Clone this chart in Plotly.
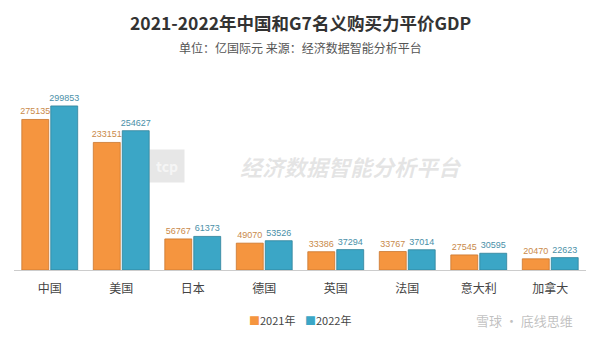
import plotly.graph_objects as go

categories = ["中国", "美国", "日本", "德国", "英国", "法国", "意大利", "加拿大"]
gdp_2021 = [275135, 233151, 56767, 49070, 33386, 33767, 27545, 20470]
gdp_2022 = [299853, 254627, 61373, 53526, 37294, 37014, 30595, 22623]
series_names = ["2021年", "2022年"]

FONT = "Noto Sans CJK SC, Arial, sans-serif"
NUMFONT = "Liberation Sans, Arial, sans-serif"
ORANGE = "#F5953F"
BLUE = "#3BA6C6"

fig = go.Figure()
fig.add_trace(go.Bar(
    name=series_names[0], x=categories, y=gdp_2021,
    marker=dict(color=ORANGE, line=dict(color="#c9762e", width=0.8)),
    text=[str(v) for v in gdp_2021], textposition="outside", constraintext="none",
    textfont=dict(size=9, color="#c98a4a", family=NUMFONT),
    cliponaxis=False,
))
fig.add_trace(go.Bar(
    name=series_names[1], x=categories, y=gdp_2022,
    marker=dict(color=BLUE, line=dict(color="#2f8199", width=0.8)),
    text=[str(v) for v in gdp_2022], textposition="outside", constraintext="none",
    textfont=dict(size=9, color="#4a90a8", family=NUMFONT),
    cliponaxis=False,
))

PH = 180.0  # plot height in px (90 -> 270)

fig.update_layout(
    width=600, height=337,
    margin=dict(l=14, r=14, t=90, b=67, autoexpand=False),
    paper_bgcolor="white", plot_bgcolor="white",
    barmode="group", bargap=0.19, bargroupgap=0.07,
    font=dict(family=FONT, color="#444"),
    showlegend=False,
    xaxis=dict(showline=True, linecolor="#cccccc", linewidth=1, ticks="",
               ticklabelstandoff=8,
               tickfont=dict(size=12, color="#444"), showgrid=False),
    yaxis=dict(visible=False, range=[0, 329000], showgrid=False),
)

fig.add_annotation(text="<b>2021-2022年中国和G7名义购买力平价GDP</b>", xref="paper", yref="paper",
                   x=0.5, y=1 + 68/PH, xanchor="center", yanchor="middle", showarrow=False,
                   font=dict(size=17.5, color="#333333", family=FONT))
fig.add_annotation(text="单位：亿国际元 来源：经济数据智能分析平台", xref="paper", yref="paper",
                   x=0.5, y=1 + 42/PH, xanchor="center", yanchor="middle", showarrow=False,
                   font=dict(size=12, color="#555555", family=FONT))
# legend
fig.add_annotation(text=f"<span style='color:{ORANGE}'>■</span>{series_names[0]}", xref="paper", yref="paper",
                   x=(272-14)/572, y=-50/PH, xanchor="center", yanchor="middle", showarrow=False,
                   font=dict(size=11, color="#444", family=FONT))
fig.add_annotation(text=f"<span style='color:{BLUE}'>■</span>{series_names[1]}", xref="paper", yref="paper",
                   x=(328-14)/572, y=-50/PH, xanchor="center", yanchor="middle", showarrow=False,
                   font=dict(size=11, color="#444", family=FONT))
# watermark
fig.add_annotation(text="<i><b>经济数据智能分析平台</b></i>", xref="paper", yref="paper",
                   x=0.59, y=(270-166)/PH, xanchor="center", yanchor="middle", showarrow=False,
                   font=dict(size=22, color="rgba(150,150,150,0.25)", family=FONT))
fig.add_annotation(text="<b>tcp</b>", xref="paper", yref="paper",
                   x=0.267, y=(270-166)/PH, xanchor="center", yanchor="middle", showarrow=False,
                   bgcolor="rgba(120,120,120,0.18)", borderpad=6,
                   font=dict(size=14, color="rgba(255,255,255,0.6)", family=FONT))
fig.add_annotation(text="雪球 · 底线思维", xref="paper", yref="paper",
                   x=0.98, y=-50/PH, xanchor="right", yanchor="middle", showarrow=False,
                   font=dict(size=13, color="rgba(130,130,130,0.5)", family=FONT))

fig.write_html("out.html")
